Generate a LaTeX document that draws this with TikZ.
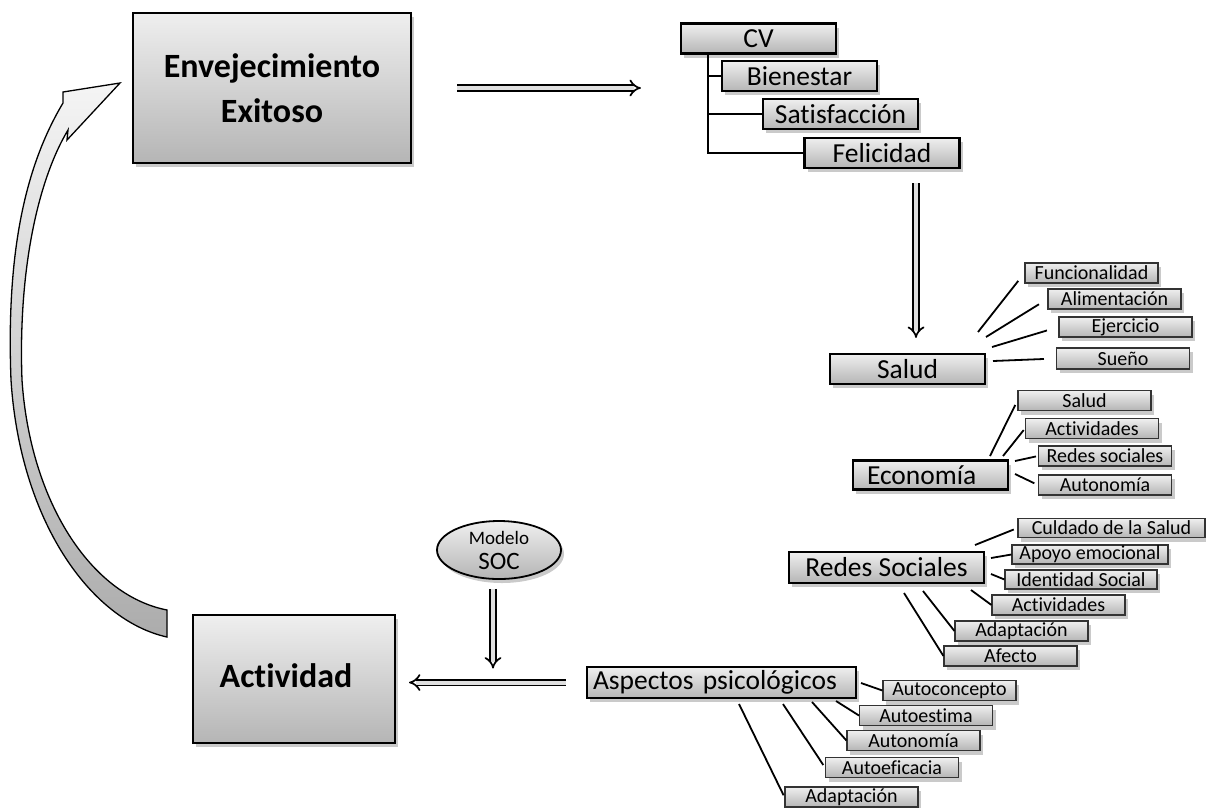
\documentclass[tikz,border=0pt]{standalone}
\usepackage{fontspec}
\setmainfont{Carlito}[Ligatures={NoCommon,TeX}]
\usepackage{tikz}
\usetikzlibrary{arrows.meta,shapes.geometric,shadows}
\definecolor{boxtop}{HTML}{EFEFEF}
\definecolor{boxbot}{HTML}{B5B5B5}
\definecolor{shade}{HTML}{8A8A8A}
\tikzset{
  boxshadow/.style={drop shadow={shadow xshift=3pt,shadow yshift=-4pt,fill=shade,opacity=.45}},
  bigbox/.style={draw,line width=2pt,top color=boxtop,bottom color=boxbot,boxshadow,align=center,inner sep=0pt,font=\fontsize{34}{45}\selectfont\bfseries},
  midbox/.style={draw,line width=2.2pt,top color=boxtop,bottom color=boxbot,boxshadow,minimum width=155pt,minimum height=30pt,inner sep=0pt,font=\fontsize{27.5}{28}\selectfont},
  subbox/.style={draw=black!80,line width=1.1pt,top color=boxtop,bottom color=boxbot,boxshadow,minimum width=133pt,minimum height=20pt,inner sep=0pt,font=\fontsize{20}{20}\selectfont},
  link/.style={line width=1.8pt},
  dblarrow/.style={double=gray!25,double distance=4pt,line width=1.7pt,-{Implies}},
}

\begin{document}
\begin{tikzpicture}[x=1pt,y=-1pt]
\useasboundingbox (0,0) rectangle (1206,807);
% curved arrow back to the top
\draw[line width=1.3pt,top color=gray!8,bottom color=gray!65] (167,637) .. controls (90,620) and (20,520) .. (11,380) .. controls (6,250) and (26,165) .. (63,103) -- (63,92) -- (120,83) -- (67,140) -- (68,130) .. controls (38,180) and (18,270) .. (22,380) .. controls (30,500) and (90,595) .. (167,610) -- cycle;

\node[bigbox,minimum width=278pt,minimum height=150pt] (exito) at (272,88) {Envejecimiento\\Exitoso};
\node[bigbox,minimum width=202pt,minimum height=128pt] (activ) at (294,679) {\raisebox{7pt}{Actividad}\hspace*{16pt}};

\node[midbox] (cv) at (758.5,38.5) {CV};
\node[midbox] (bien) at (799.5,76) {Bienestar};
\node[midbox] (satis) at (840.5,114) {Satisfacción};
\node[midbox] (feli) at (882,153) {Felicidad};
\node[midbox] (salud) at (907.5,369) {Salud};
\node[midbox,minimum height=29pt,text width=127pt,align=left] (econ) at (930.5,475) {Economía};
\node[midbox,minimum width=195pt,minimum height=31pt] (redes) at (886.5,567.5) {Redes Sociales};
\node[midbox,minimum width=269pt,minimum height=31pt,text width=257pt,align=left] (aspec) at (721.5,682.5) {Aspectos psicológicos};

\node[ellipse,draw,line width=1.8pt,top color=boxtop,bottom color=boxbot,boxshadow,minimum width=124pt,minimum height=58pt,inner sep=0pt,align=center,font=\fontsize{19}{25}\selectfont] (soc) at (499,550) {Modelo\\{\fontsize{25}{25}\selectfont SOC}};

% salud
\node[subbox] (func) at (1091.5,273) {Funcionalidad};
\node[subbox] (alim) at (1114.5,299) {Alimentación};
\node[subbox] (ejer) at (1125.5,327) {Ejercicio};
\node[subbox,minimum height=21pt] (sueno) at (1123,358.5) {Sueño};
% economia
\node[subbox] (esal) at (1084.5,400.5) {Salud};
\node[subbox] (eact) at (1092,428.5) {Actividades};
\node[subbox] (ered) at (1105,456) {Redes sociales};
\node[subbox] (eaut) at (1105,485) {Autonomía};
% redes sociales
\node[subbox,minimum width=187pt,minimum height=19pt] (rcui) at (1111.5,528) {Culdado de la Salud};
\node[subbox,minimum width=156pt,minimum height=19pt] (rapo) at (1090,554.5) {Apoyo emocional};
\node[subbox,minimum width=152pt,minimum height=19pt] (ride) at (1081,579.5) {Identidad Social};
\node[subbox] (ract) at (1058.5,605) {Actividades};
\node[subbox] (rada) at (1021.5,631) {Adaptación};
\node[subbox] (rafe) at (1010.5,656) {Afecto};
% aspectos psicologicos
\node[subbox] (pcon) at (949.5,690.5) {Autoconcepto};
\node[subbox] (pest) at (926,715.5) {Autoestima};
\node[subbox] (paut) at (913.5,740.5) {Autonomía};
\node[subbox] (pefi) at (892,767.5) {Autoeficacia};
\node[subbox] (pada) at (851.5,797) {Adaptación};

% CV tree
\coordinate (trunk) at (708,53);
\draw[link] (trunk) |- (feli.west);
\draw[link] (trunk |- bien.west) -- (bien.west);
\draw[link] (trunk |- satis.west) -- (satis.west);

% loose line ends near the parent boxes
\coordinate (s1) at (978,332); \coordinate (s2) at (986,337); \coordinate (s3) at (992,347); \coordinate (s4) at (993,361);
\coordinate (e1) at (990,456); \coordinate (e2) at (1003,456); \coordinate (e3) at (1015,461); \coordinate (e4) at (1015,474);
\coordinate (r1) at (975,545); \coordinate (r2) at (991,558); \coordinate (r3) at (991,574);
\coordinate (r4) at (971,590); \coordinate (r5) at (923,591); \coordinate (r6) at (904,593);
\coordinate (p1) at (861,683); \coordinate (p2) at (836,701); \coordinate (p3) at (812,702);
\coordinate (p4) at (783,704); \coordinate (p5) at (739,704);

\draw[link,shorten >=10pt] (s1) -- (func.west);
\draw[link,shorten >=10pt] (s2) -- (alim.west);
\draw[link,shorten >=12pt] (s3) -- (ejer.west);
\draw[link,shorten >=12pt] (s4) -- (sueno.west);
\draw[link,shorten >=5pt] (e1) -- (esal.west);
\draw[link,shorten >=2pt] (e2) -- (eact.west);
\draw[link,shorten >=2pt] (e3) -- (ered.west);
\draw[link,shorten >=4pt] (e4) -- (eaut.west);
\draw[link,shorten >=4pt] (r1) -- (rcui.west);
\draw[link] (r2) -- (rapo.west);
\draw[link] (r3) -- (ride.west);
\draw[link] (r4) -- (ract.west);
\draw[link] (r5) -- (rada.west);
\draw[link] (r6) -- (rafe.west);
\draw[link] (p1) -- (pcon.west);
\draw[link] (p2) -- (pest.west);
\draw[link] (p3) -- (paut.west);
\draw[link,shorten >=3pt] (p4) -- (pefi.west);
\draw[link,shorten >=2pt] (p5) -- (pada.west);

% hollow arrows
\draw[dblarrow,shorten <=45pt,shorten >=39pt] (exito.east) -- (exito.east -| cv.west);
\coordinate (felifoot) at ([xshift=34pt]feli.south);
\draw[dblarrow,shorten <=14pt,shorten >=15pt] (felifoot) -- (felifoot |- salud.north);
\coordinate (socfoot) at ([xshift=-6pt]soc.south);
\draw[dblarrow,shorten <=9pt,shorten >=14pt] (socfoot) -- (socfoot |- aspec.west);
\draw[dblarrow,shorten <=20pt,shorten >=13pt] (aspec.west) -- (aspec.west -| activ.east);
\end{tikzpicture}
\end{document}
